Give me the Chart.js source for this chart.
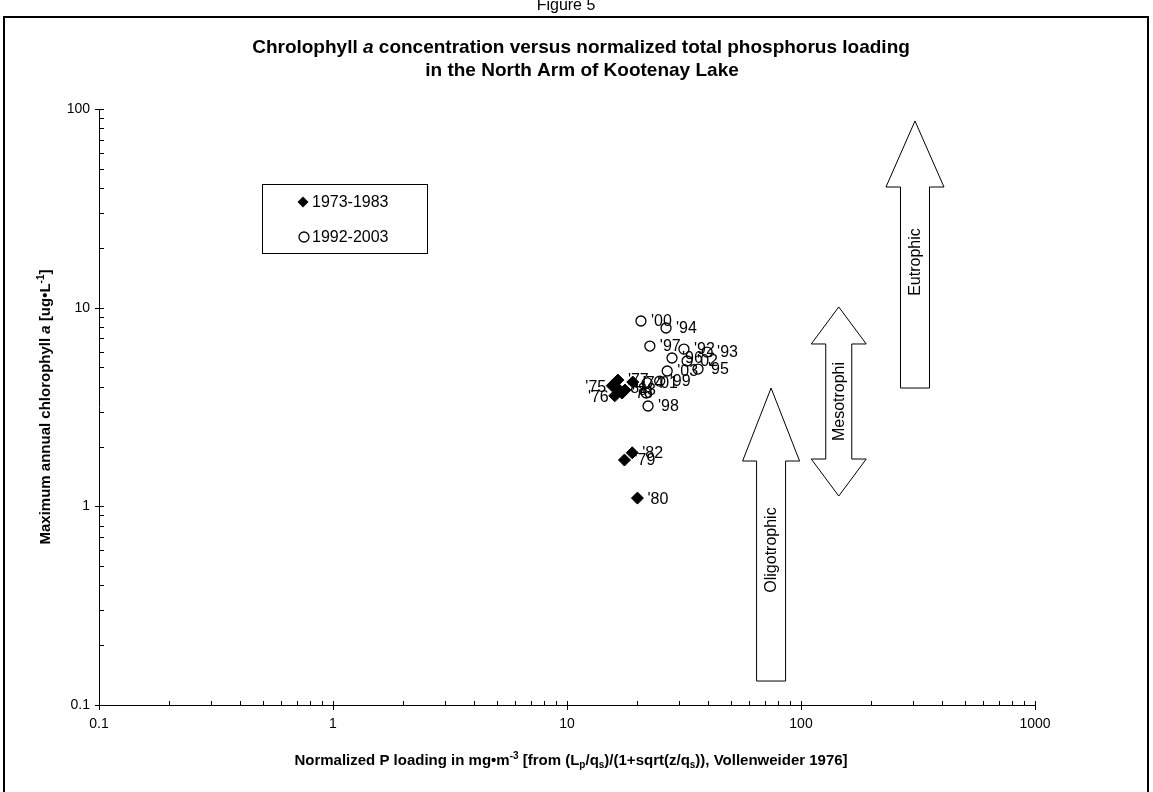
<!DOCTYPE html>
<html><head><meta charset="utf-8">
<script src="https://cdn.jsdelivr.net/npm/chart.js@4.4.1/dist/chart.umd.min.js"></script>
<style>html,body{margin:0;padding:0;background:#fff;overflow:hidden}#wrap{position:relative;width:1153px;height:792px}</style>
</head><body><div id="wrap"><canvas id="c" width="1153" height="792"></canvas></div>
<script>
const FONT = 'Arial, "Liberation Sans", Helvetica, sans-serif';

// ---- data ----
const seriesNames = ['1973-1983', '1992-2003'];
const earlyLabels  = ["'74", "'75", "'76", "'77", "'78", "'81", "'83", "'79", "'82", "'80"];
const earlyLoading = [19.1, 15.6, 16.0, 16.5, 17.2, 16.4, 17.7, 17.6, 19.0, 20.0];
const earlyChl     = [4.22, 4.05, 3.60, 4.32, 3.72, 3.94, 3.85, 1.71, 1.86, 1.10];
const lateLabels   = ["'00", "'94", "'97", "'92", "'93", "'96", "'02", "'95", "'03", "'99", "'01", "", "'98"];
const lateLoading  = [20.7, 26.5, 22.6, 31.6, 39.7, 28.1, 32.6, 36.3, 26.8, 24.9, 22.0, 21.8, 22.2];
const lateChl      = [8.57, 7.90, 6.41, 6.19, 5.98, 5.58, 5.39, 4.91, 4.80, 4.27, 4.18, 3.72, 3.20];
const xTickValues = [0.1, 1, 10, 100, 1000];
const yTickValues = [0.1, 1, 10, 100];
const arrowNames  = ['Oligotrophic', 'Mesotrophi', 'Eutrophic'];
const arrowX      = [74.5, 145, 307];
const arrowTop    = [3.94, 10.08, 87.0];
const arrowBottom = [0.132, 1.127, 3.94];
const leftLabels = ["'75", "'76"];

// ---- styling of annotations ----
const arrowStyle = [
  {both:false, headH:73, hw:28.5, sw:14.5, textOff:89},
  {both:true,  headH:37, hw:27.5, sw:13,   textOff:null},
  {both:false, headH:66, hw:29,   sw:14.5, textOff:75}
];

function segFont(s, size){
  const sz = (s.k === 'sup' || s.k === 'sub') ? Math.round(size * 0.68) : size;
  return (s.k === 'i' ? 'italic ' : '') + 'bold ' + sz + 'px ' + FONT;
}
function drawRich(ctx, segs, size, cx, base){
  let w = 0;
  for (const s of segs){ ctx.font = segFont(s, size); w += ctx.measureText(s.t).width; }
  let x = cx - w / 2;
  ctx.textAlign = 'left'; ctx.textBaseline = 'alphabetic';
  for (const s of segs){
    ctx.font = segFont(s, size);
    let dy = 0;
    if (s.k === 'sup') dy = -size * 0.42;
    if (s.k === 'sub') dy = size * 0.22;
    ctx.fillText(s.t, x, base + dy);
    x += ctx.measureText(s.t).width;
  }
}

const decor = {
  id: 'decor',
  beforeDraw(chart){
    const ctx = chart.ctx;
    ctx.save();
    ctx.fillStyle = '#fff';
    ctx.fillRect(0, 0, chart.width, chart.height);
    ctx.restore();
  },
  afterDatasetsDraw(chart){
    const ctx = chart.ctx;
    ctx.save();
    ctx.fillStyle = '#000';
    ctx.font = '16px ' + FONT;
    ctx.textBaseline = 'middle';
    const lbls = [earlyLabels, lateLabels];
    chart.data.datasets.forEach((ds, di) => {
      const meta = chart.getDatasetMeta(di);
      meta.data.forEach((el, i) => {
        const t = lbls[di][i];
        if (!t) return;
        if (leftLabels.includes(t)) { ctx.textAlign = 'right'; ctx.fillText(t, el.x - 6, el.y + 2); }
        else { ctx.textAlign = 'left'; ctx.fillText(t, el.x + 10, el.y + 1); }
      });
    });
    ctx.restore();
  },
  afterDraw(chart){
    const ctx = chart.ctx, xs = chart.scales.x, ys = chart.scales.y, a = chart.chartArea;
    ctx.save();
    // frame
    ctx.strokeStyle = '#000'; ctx.lineWidth = 2;
    ctx.beginPath();
    ctx.moveTo(4, 800); ctx.lineTo(4, 17); ctx.lineTo(1148, 17); ctx.lineTo(1148, 800);
    ctx.stroke();
    ctx.fillStyle = '#000';
    ctx.font = '16px ' + FONT; ctx.textAlign = 'center'; ctx.textBaseline = 'alphabetic';
    ctx.fillText('Figure 5', 566, 10);

    // axes
    ctx.lineWidth = 1;
    ctx.beginPath();
    ctx.moveTo(a.left + 0.5, a.top); ctx.lineTo(a.left + 0.5, a.bottom + 0.5); ctx.lineTo(a.right, a.bottom + 0.5);
    ctx.stroke();
    ctx.beginPath();
    for (let e = -1; e <= 3; e++){
      for (let m = 1; m <= 9; m++){
        const v = m * Math.pow(10, e);
        if (v > 1000 + 1e-9) continue;
        const px = Math.round(xs.getPixelForValue(v)) + 0.5;
        if (m === 1){ ctx.moveTo(px, a.bottom - 4); ctx.lineTo(px, a.bottom + 5); }
        else { ctx.moveTo(px, a.bottom - 4); ctx.lineTo(px, a.bottom); }
      }
    }
    for (let e = -1; e <= 2; e++){
      for (let m = 1; m <= 9; m++){
        const v = m * Math.pow(10, e);
        if (v > 100 + 1e-9) continue;
        const py = Math.round(ys.getPixelForValue(v)) + 0.5;
        if (m === 1){ ctx.moveTo(a.left - 4, py); ctx.lineTo(a.left + 5, py); }
        else { ctx.moveTo(a.left, py); ctx.lineTo(a.left + 5, py); }
      }
    }
    ctx.stroke();

    // title
    ctx.fillStyle = '#000';
    drawRich(ctx, [{t:'Chrolophyll '}, {t:'a', k:'i'}, {t:' concentration versus normalized total phosphorus loading'}], 19, 581, 53);
    drawRich(ctx, [{t:'in the North Arm of Kootenay Lake'}], 19, 582, 76);

    // x axis title
    drawRich(ctx, [
      {t:'Normalized P loading in mg\u2022m'}, {t:'-3', k:'sup'}, {t:' [from (L'}, {t:'p', k:'sub'},
      {t:'/q'}, {t:'s', k:'sub'}, {t:')/(1+sqrt(z/q'}, {t:'s', k:'sub'}, {t:')), Vollenweider 1976]'}
    ], 15, 571, 765);

    // y axis title
    ctx.save();
    ctx.translate(50, (a.top + a.bottom) / 2);
    ctx.rotate(-Math.PI / 2);
    drawRich(ctx, [{t:'Maximum annual chlorophyll '}, {t:'a', k:'i'}, {t:' [ug\u2022L'}, {t:'-1', k:'sup'}, {t:']'}], 15, 0, 0);
    ctx.restore();

    // arrows
    arrowNames.forEach((name, i) => {
      const st = arrowStyle[i];
      const x = xs.getPixelForValue(arrowX[i]);
      const yt = ys.getPixelForValue(arrowTop[i]);
      const yb = ys.getPixelForValue(arrowBottom[i]);
      const hb = yt + st.headH;
      ctx.beginPath();
      ctx.moveTo(x, yt);
      ctx.lineTo(x + st.hw, hb);
      ctx.lineTo(x + st.sw, hb);
      if (st.both){
        const lb = yb - st.headH;
        ctx.lineTo(x + st.sw, lb); ctx.lineTo(x + st.hw, lb); ctx.lineTo(x, yb);
        ctx.lineTo(x - st.hw, lb); ctx.lineTo(x - st.sw, lb);
      } else {
        ctx.lineTo(x + st.sw, yb); ctx.lineTo(x - st.sw, yb);
      }
      ctx.lineTo(x - st.sw, hb);
      ctx.lineTo(x - st.hw, hb);
      ctx.closePath();
      ctx.fillStyle = '#fff'; ctx.fill();
      ctx.strokeStyle = '#000'; ctx.lineWidth = 1; ctx.stroke();
      const ty = st.textOff === null ? (yt + yb) / 2 : hb + st.textOff;
      ctx.save();
      ctx.translate(x + 1, ty);
      ctx.rotate(-Math.PI / 2);
      ctx.fillStyle = '#000'; ctx.font = '16px ' + FONT;
      ctx.textAlign = 'center'; ctx.textBaseline = 'middle';
      ctx.fillText(name, 0, 0);
      ctx.restore();
    });

    // legend
    ctx.strokeStyle = '#000'; ctx.lineWidth = 1;
    ctx.strokeRect(262.5, 184.5, 165, 69);
    ctx.font = '16px ' + FONT; ctx.textAlign = 'left'; ctx.textBaseline = 'middle'; ctx.fillStyle = '#000';
    const rows = [202, 237];
    chart.data.datasets.forEach((ds, di) => {
      const y = rows[di];
      ctx.beginPath();
      if (di === 0){
        ctx.moveTo(303, y - 5.5); ctx.lineTo(308.5, y); ctx.lineTo(303, y + 5.5); ctx.lineTo(297.5, y); ctx.closePath();
        ctx.fillStyle = '#000'; ctx.fill();
      } else {
        ctx.arc(304, y, 5, 0, Math.PI * 2);
        ctx.lineWidth = 1.3; ctx.stroke();
      }
      ctx.fillStyle = '#000';
      ctx.fillText(ds.label, 312, y + 1);
    });
    ctx.restore();
  }
};

const ctx = document.getElementById('c').getContext('2d');
new Chart(ctx, {
  type: 'scatter',
  data: {
    datasets: [
      { label: seriesNames[0], data: earlyLoading.map((x, i) => ({x, y: earlyChl[i]})),
        pointStyle: 'rectRot', pointRadius: 6, backgroundColor: '#000', borderColor: '#000', borderWidth: 1 },
      { label: seriesNames[1], data: lateLoading.map((x, i) => ({x, y: lateChl[i]})),
        pointStyle: 'circle', pointRadius: 5, backgroundColor: 'rgba(0,0,0,0)', borderColor: '#000', borderWidth: 1.3 }
    ]
  },
  options: {
    responsive: false, animation: false, devicePixelRatio: 1,
    layout: { padding: { top: 109, right: 118, bottom: 0, left: 0 } },
    plugins: { legend: { display: false }, tooltip: { enabled: false }, title: { display: false } },
    scales: {
      x: {
        type: 'logarithmic', min: 0.1, max: 1000,
        afterFit: s => { s.height = 87; },
        afterBuildTicks: s => { s.ticks = xTickValues.map(v => ({value: v})); },
        grid: { display: false, drawTicks: false }, border: { display: false },
        ticks: { font: { family: FONT, size: 14 }, color: '#000', padding: 11, autoSkip: false, maxRotation: 0, callback: v => String(v) }
      },
      y: {
        type: 'logarithmic', min: 0.1, max: 100,
        afterFit: s => { s.width = 99; },
        afterBuildTicks: s => { s.ticks = yTickValues.map(v => ({value: v})); },
        grid: { display: false, drawTicks: false }, border: { display: false },
        ticks: { font: { family: FONT, size: 14 }, color: '#000', padding: 9, autoSkip: false, callback: v => String(v) }
      }
    }
  },
  plugins: [decor]
});
</script>
</body></html>
